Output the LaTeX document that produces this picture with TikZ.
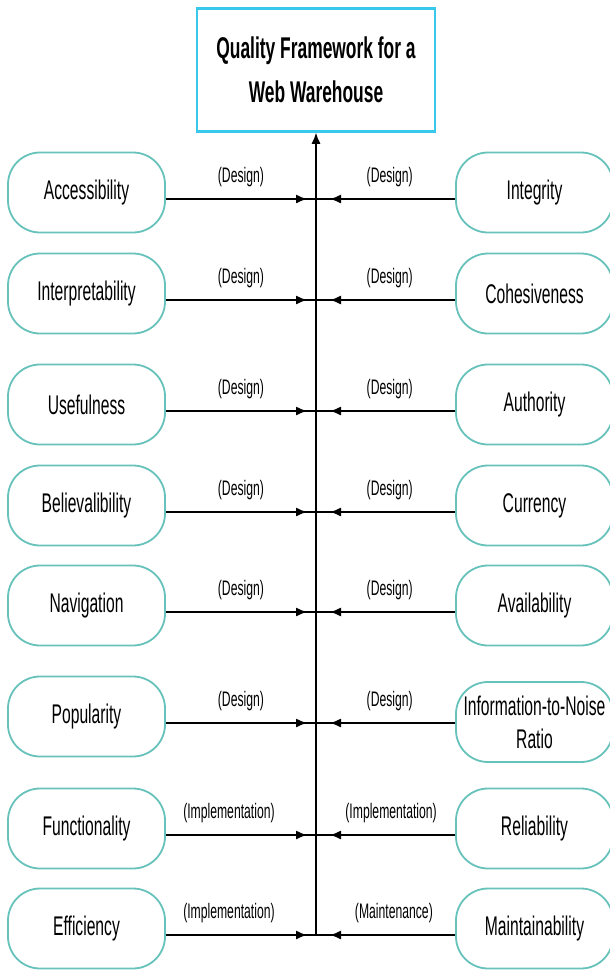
\documentclass[tikz,border=0pt]{standalone}
\usepackage{fontspec}
\setmainfont{Liberation Sans}[FakeStretch=0.58]
\usepackage{tikz}
\usetikzlibrary{calc, arrows.meta, decorations.markings}
\definecolor{framecyan}{HTML}{38C8EC}
\definecolor{boxteal}{HTML}{66C2BA}
\tikzstyle{headbox} = [draw=framecyan, line width=2.5pt, rectangle, minimum width=238pt,
minimum height=123pt, align=center, font=\bfseries\fontsize{30}{44}\selectfont]
\tikzstyle{factor} = [draw=boxteal, line width=1.8pt, rectangle, rounded corners=32pt,
minimum width=157pt, minimum height=80pt, align=center, inner sep=2pt, font=\fontsize{27}{33}\selectfont]
\tikzstyle{phase} = [font=\fontsize{21}{25}\selectfont, yshift=22pt]
\tikzstyle{feedl} = [postaction={decorate}, decoration={markings, mark=at position -9pt with {\arrow{>}}}]
\tikzstyle{feedr} = [postaction={decorate}, decoration={markings, mark=at position -14pt with {\arrow{>}}}]
\begin{document}
\begin{tikzpicture}[x=1pt,y=-1pt,node distance=448pt,>={Latex[length=11pt,width=9pt]},line width=1.3pt]
      \useasboundingbox (0,0) rectangle (610,970);
      \node [headbox] (title) at (316,70) {Quality Framework for a\\Web Warehouse};
      % left column
      \node [factor] (acc) at (86.5,192.5) {Accessibility};
      \node [factor] (interp) at (86.5,293.5) {Interpretability};
      \node [factor] (use) at (86.5,404.5) {Usefulness};
      \node [factor] (believ) at (86.5,505.5) {Believalibility};
      \node [factor] (nav) at (86.5,605.5) {Navigation};
      \node [factor] (pop) at (86.5,716.5) {Popularity};
      \node [factor] (func) at (86.5,828.5) {Functionality};
      \node [factor] (eff) at (86.5,928.5) {Efficiency};
      % right column
      \node [factor] (integ) [right of=acc] {Integrity};
      \node [factor] (cohes) [right of=interp] {Cohesiveness};
      \node [factor] (auth) [right of=use] {Authority};
      \node [factor] (curr) [right of=believ] {Currency};
      \node [factor] (avail) [right of=nav] {Availability};
      \node [factor, yshift=-5.5pt] (noise) [right of=pop] {Information-to-Noise\\Ratio};
      \node [factor] (rel) [right of=func] {Reliability};
      \node [factor] (maint) [right of=eff] {Maintainability};
      % joints on the spine
      \coordinate (j1) at (316,199);
      \coordinate (j2) at (316,300);
      \coordinate (j3) at (316,411);
      \coordinate (j4) at (316,512);
      \coordinate (j5) at (316,612);
      \coordinate (j6) at (316,723);
      \coordinate (j7) at (316,835);
      \coordinate (j8) at (316,935);
      \draw[->] (j8) -- (title.south);
      \draw[feedl] ([yshift=-6.5pt]acc.east) -- node[phase] {(Design)} (j1);
      \draw[feedl] ([yshift=-6.5pt]interp.east) -- node[phase] {(Design)} (j2);
      \draw[feedl] ([yshift=-6.5pt]use.east) -- node[phase] {(Design)} (j3);
      \draw[feedl] ([yshift=-6.5pt]believ.east) -- node[phase] {(Design)} (j4);
      \draw[feedl] ([yshift=-6.5pt]nav.east) -- node[phase] {(Design)} (j5);
      \draw[feedl] ([yshift=-6.5pt]pop.east) -- node[phase] {(Design)} (j6);
      \draw[feedl] ([yshift=-6.5pt]func.east) -- node[phase, pos=0.42] {(Implementation)} (j7);
      \draw[feedl] ([yshift=-6.5pt]eff.east) -- node[phase, pos=0.42] {(Implementation)} (j8);
      \draw[feedr] ([yshift=-6.5pt]integ.west) -- node[phase, pos=0.47] {(Design)} (j1);
      \draw[feedr] ([yshift=-6.5pt]cohes.west) -- node[phase, pos=0.47] {(Design)} (j2);
      \draw[feedr] ([yshift=-6.5pt]auth.west) -- node[phase, pos=0.47] {(Design)} (j3);
      \draw[feedr] ([yshift=-6.5pt]curr.west) -- node[phase, pos=0.47] {(Design)} (j4);
      \draw[feedr] ([yshift=-6.5pt]avail.west) -- node[phase, pos=0.47] {(Design)} (j5);
      \draw[feedr] ([yshift=-1pt]noise.west) -- node[phase, pos=0.47] {(Design)} (j6);
      \draw[feedr] ([yshift=-6.5pt]rel.west) -- node[phase, pos=0.46] {(Implementation)} (j7);
      \draw[feedr] ([yshift=-6.5pt]maint.west) -- node[phase, pos=0.44] {(Maintenance)} (j8);
\end{tikzpicture}
\end{document}
